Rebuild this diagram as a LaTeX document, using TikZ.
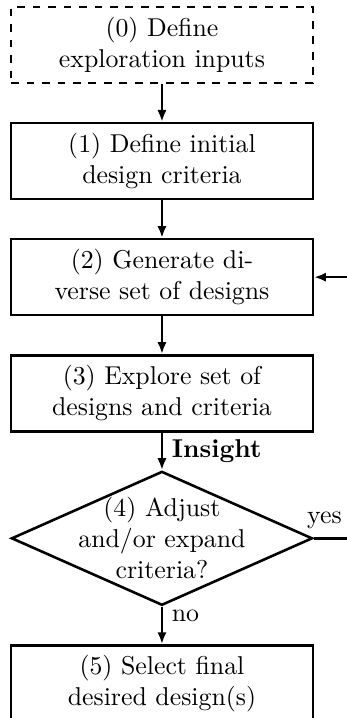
\documentclass[tikz,border=0pt]{standalone}
\usepackage{tikz}
\usetikzlibrary{positioning, shapes.geometric, arrows.meta}

\begin{document}
\begin{tikzpicture}[line width=1pt,
    node distance = 0.511cm,
    >={Latex[length=4.6pt,width=3.6pt]},
    block/.style = {rectangle, draw, align=center, inner ysep=1pt,
        minimum width = 4.11cm, minimum height = 1.035cm},
    inputblock/.style = {block, dashed},
    decision/.style = {diamond, draw, align=center, aspect=2.25,
        inner sep=-0.3cm, minimum width = 4.1cm, minimum height = 1.825cm}]

\useasboundingbox (0,0) rectangle (4.713,-9.78);

% Steps
\node[inputblock] (s0) at (2.206,-0.613) {(0) Define\\exploration inputs};
\node[block, below=of s0] (s1) {(1) Define initial\\design criteria};
\node[block, below=of s1] (s2) {(2) Generate di-\\verse set of designs};
\node[block, below=of s2] (s3) {(3) Explore set of\\designs and criteria};
\node[decision, below=of s3] (s4) {(4) Adjust\\and/or expand\\criteria?};
\node[block, below=of s4] (s5) {(5) Select final\\desired design(s)};

% Main flow
\draw[->] (s0) -- (s1);
\draw[->] (s1) -- (s2);
\draw[->] (s2) -- (s3);
\draw[->] (s3) -- node[right] {\textbf{Insight}} (s4);
\draw[->] (s4) -- node[right, pos=0.25] {no} (s5);

% Loop back
\coordinate (loop) at (5,0);
\draw[->] (s4.east) -- node[above, pos=0.2] {yes} (s4.east -| loop) |- (s2.east);
\end{tikzpicture}
\end{document}
